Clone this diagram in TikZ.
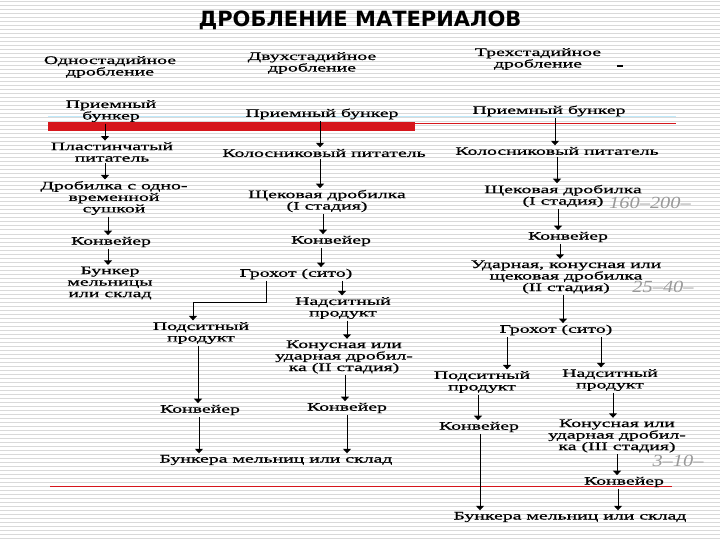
\documentclass[tikz,border=0pt]{standalone}
\usepackage{fontspec}
\setmainfont{Liberation Serif}
\newfontfamily\diag[FakeStretch=1.72,FakeBold=0.7]{Liberation Serif}
\newfontfamily\titlefont{DejaVu Sans}
\newfontfamily\handfont[FakeStretch=1.2]{Liberation Serif Italic}
\usetikzlibrary{arrows.meta}
\definecolor{barred}{HTML}{D6161C}
\newcommand{\varr}[3]{\draw[arr] ([xshift=#3pt]#1.south) -- ([xshift=#3pt]#1.south |- #2.north);}
\begin{document}
\begin{tikzpicture}[x=1pt,y=-1pt,
  lbl/.style={inner sep=1.5pt, align=center, font={\diag\fontsize{11.5pt}{11.5pt}\selectfont}},
  hdr/.style={lbl},
  hand/.style={inner sep=0pt, text=black!40, font={\handfont\fontsize{17pt}{17pt}\selectfont}},
  arr/.style={line width=1pt, -{Triangle[width=8pt,length=4.5pt]}},
  ln/.style={line width=1pt},
  stripe/.style={line width=1pt, draw=black!15}]
\useasboundingbox (0,0) rectangle (720,540);
\fill[white] (0,0) rectangle (720,540);
\foreach \yy in {2,6,...,538} \draw[stripe] (0,\yy) -- (720,\yy);
% red marks
\draw[cyan!25, line width=0.8pt] (48,116) -- (676,116);
\fill[barred] (48,122) rectangle (415,131);
\draw[barred, line width=0.9pt] (415,123.5) -- (676,123.5);
\draw[barred, line width=0.9pt] (50,486.5) -- (672,486.5);
% title
\node[font={\titlefont\bfseries\fontsize{21pt}{21pt}\selectfont}] (title) at (360,20) {ДРОБЛЕНИЕ МАТЕРИАЛОВ};
% headers
\node[hdr] (h1) at (110,67) {Одностадийное\\дробление};
\node[hdr] (h2) at (312,63) {Двухстадийное\\дробление};
\node[hdr] (h3) at (538,59) {Трехстадийное\\дробление};
\draw[line width=1.2pt] (617,66) -- (623,66);
% left column
\node[lbl] (L1) at (111,111) {Приемный\\бункер};
\node[lbl] (L2) at (112,152) {Пластинчатый\\питатель};
\node[lbl] (L3) at (114,198) {Дробилка с одно-\\временной\\сушкой};
\node[lbl] (L4) at (111,242) {Конвейер};
\node[lbl] (L5) at (110,283) {Бункер\\мельницы\\или склад};
\varr{L1}{L2}{-6}
\varr{L2}{L3}{-7}
\varr{L3}{L4}{-6}
\varr{L4}{L5}{-3}
% middle column
\node[lbl] (M1) at (322,114) {Приемный бункер};
\node[lbl] (M2) at (324,153) {Колосниковый питатель};
\node[lbl] (M3) at (327,201) {Щековая дробилка\\(I стадия)};
\node[lbl] (M4) at (331,241) {Конвейер};
\node[lbl] (M5) at (296,274) {Грохот (сито)};
\node[lbl] (M6) at (343,308) {Надситный\\продукт};
\node[lbl] (M7) at (344,357) {Конусная или\\ударная дробил-\\ка (II стадия)};
\node[lbl] (M8) at (347,408) {Конвейер};
\node[lbl] (M9) at (201,333) {Подситный\\продукт};
\node[lbl] (M10) at (200,410) {Конвейер};
\node[lbl] (M11) at (276,460) {Бункера мельниц или склад};
\coordinate (mj) at (193,302);
\varr{M1}{M2}{-2}
\varr{M2}{M3}{-4}
\varr{M3}{M4}{-4}
\varr{M4}{M5}{-10}
\varr{M5}{M6}{46}
\varr{M6}{M7}{4}
\varr{M7}{M8}{1}
\varr{M9}{M10}{-3}
\varr{M10}{M11}{-1}
\varr{M8}{M11}{0}
\draw[arr] ([xshift=-30pt]M5.south) |- (mj) -- (mj |- M9.north);
% right column
\node[lbl] (R1) at (549,111) {Приемный бункер};
\node[lbl] (R2) at (557,151) {Колосниковый питатель};
\node[lbl] (R3) at (563,196) {Щековая дробилка\\(I стадия)};
\node[lbl] (R4) at (568,237) {Конвейер};
\node[lbl] (R5) at (566,277) {Ударная, конусная или\\щековая дробилка\\(II стадия)};
\node[lbl] (R6) at (556,330) {Грохот (сито)};
\node[lbl] (R7) at (482,382) {Подситный\\продукт};
\node[lbl] (R8) at (610,380) {Надситный\\продукт};
\node[lbl] (R9) at (479,427) {Конвейер};
\node[lbl] (R10) at (617,436) {Конусная или\\ударная дробил-\\ка (III стадия)};
\node[lbl] (R11) at (624,482) {Конвейер};
\node[lbl] (R12) at (570,517) {Бункера мельниц или склад};
\varr{R1}{R2}{6}
\varr{R2}{R3}{0}
\varr{R3}{R4}{-5}
\varr{R4}{R5}{-8}
\varr{R5}{R6}{-3}
\varr{R6}{R7}{-49}
\varr{R6}{R8}{45}
\varr{R7}{R9}{-4}
\varr{R8}{R10}{3}
\varr{R10}{R11}{0}
\varr{R11}{R12}{-6}
\varr{R9}{R12}{1}
% handwritten notes
\node[hand] (n1) at (650,203) {160–200–};
\node[hand] (n2) at (663,287) {25–40–};
\node[hand] (n3) at (678,461) {3–10–};
\end{tikzpicture}
\end{document}
